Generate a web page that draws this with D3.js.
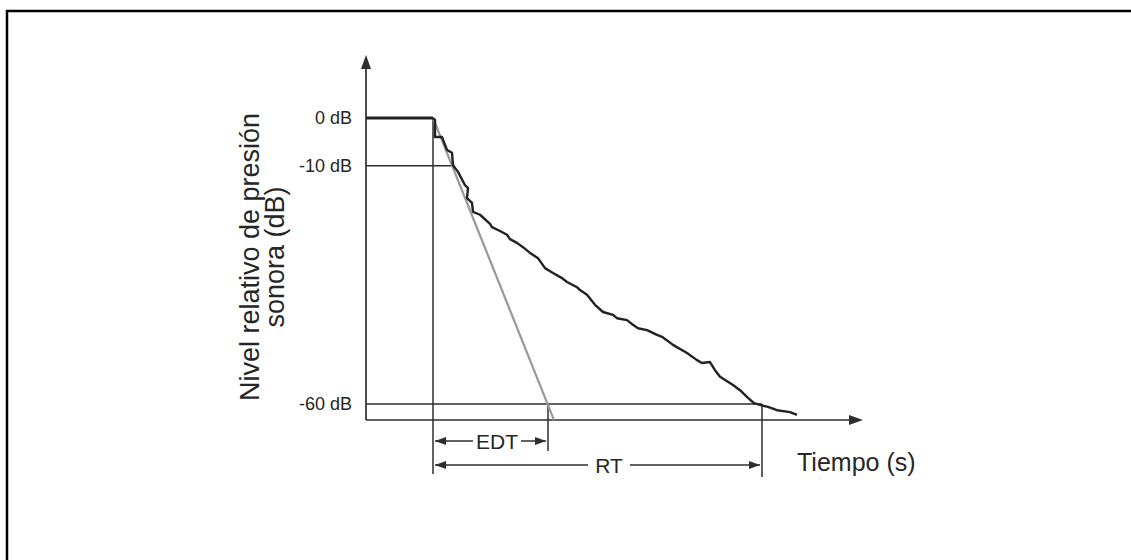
<!DOCTYPE html>
<html>
<head>
<meta charset="utf-8">
<script src="https://cdn.jsdelivr.net/npm/d3@7"></script>
<style>
  body { margin: 0; background: #fff; }
  text { font-family: "Liberation Sans", Arial, sans-serif; fill: #262626; }
</style>
</head>
<body>
<div id="chart"></div>
<script>
// decay curve, time (s) vs relative level (dB)
var flatPart = [[0, 0], [0.67, 0]];
var decayCurve = [
    [0.67, 0], [0.69, -0.4], [0.69, -4.0], [0.76, -4.0], [0.81, -6.7], [0.86, -7.3],
    [0.87, -9.9], [0.92, -11.3], [0.99, -14.1], [1.02, -14.7], [1.01, -16.8], [1.06, -17.8],
    [1.07, -19.7], [1.14, -20.3], [1.24, -22.2], [1.26, -22.9], [1.34, -23.7], [1.41, -24.5],
    [1.44, -25.4], [1.51, -26.2], [1.57, -27.1], [1.64, -28.3], [1.72, -29.4], [1.79, -31.5],
    [1.87, -32.5], [1.96, -33.6], [2.01, -34.4], [2.11, -35.5], [2.14, -36.1], [2.21, -37.1],
    [2.29, -39.2], [2.37, -40.7], [2.47, -41.3], [2.51, -42.0], [2.61, -42.4], [2.67, -43.4],
    [2.72, -44.1], [2.81, -44.5], [2.91, -45.5], [2.96, -45.9], [3.07, -47.6], [3.21, -49.3],
    [3.31, -50.8], [3.36, -51.4], [3.44, -51.2], [3.49, -52.9], [3.54, -54.3], [3.67, -56.0],
    [3.74, -57.1], [3.82, -58.7], [3.88, -59.8], [3.94, -60.2], [4.02, -60.6], [4.11, -61.3],
    [4.24, -61.7], [4.31, -62.3]
];
var edtLine = [[0.67, 0], [1.88, -63.4]];
var tickValues = [0, -10, -60];
var tickLabels = ["0 dB", "-10 dB", "-60 dB"];
var tStart = 0.67, tEdt = 1.82, tRt = 3.96;
var tTen = 0.87;   // where -10 dB meets the curve
var yLabelLines = ["Nivel relativo de presión", "sonora (dB)"];
var xLabel = "Tiempo (s)";

var W = 1131, H = 560;
var svg = d3.select("#chart").append("svg").attr("width", W).attr("height", H);

// frame
svg.append("rect").attr("x", 7).attr("y", 11).attr("width", 1140).attr("height", 560)
    .attr("fill", "none").attr("stroke", "#000").attr("stroke-width", 2.5);

var x = d3.scaleLinear().domain([0, 5]).range([366, 866]);
var y = d3.scaleLinear().domain([0, -60]).range([118, 404]);

var axisY = 420, axisTop = 55, axisRight = 863;
var ink = "#2e2e2e";

var line = d3.line().x(function(d) { return x(d[0]); }).y(function(d) { return y(d[1]); });

// axes with arrow heads
svg.append("line").attr("x1", x(0)).attr("x2", x(0)).attr("y1", axisY).attr("y2", axisTop + 8)
    .attr("stroke", ink).attr("stroke-width", 1.7);
svg.append("path").attr("d", "M" + x(0) + "," + axisTop + "l-5,14l10,0z").attr("fill", ink);
svg.append("line").attr("x1", x(0)).attr("x2", axisRight - 8).attr("y1", axisY).attr("y2", axisY)
    .attr("stroke", ink).attr("stroke-width", 1.7);
svg.append("path").attr("d", "M" + axisRight + "," + axisY + "l-14,-5l0,10z").attr("fill", ink);

// guide lines
function seg(x1, y1, x2, y2, w) {
    svg.append("line").attr("x1", x1).attr("y1", y1).attr("x2", x2).attr("y2", y2)
        .attr("stroke", ink).attr("stroke-width", w || 1.5);
}
seg(x(0), y(-10), x(tTen), y(-10));
seg(x(0), y(-60), x(tRt), y(-60));
seg(x(tStart), y(0), x(tStart), 474);
seg(x(tEdt), y(-60), x(tEdt), 451);
seg(x(tRt), y(-60), x(tRt), 477);

// tick labels
svg.selectAll(".tick").data(tickValues).enter().append("text")
    .attr("x", 352).attr("y", function(d) { return y(d); }).attr("dy", "0.36em")
    .attr("text-anchor", "end").style("font-size", "18px")
    .text(function(d, i) { return tickLabels[i]; });

// straight EDT extrapolation (grey)
svg.append("path").datum(edtLine).attr("d", line)
    .attr("fill", "none").attr("stroke", "#999").attr("stroke-width", 2.2);

// measured decay
svg.append("path").datum(flatPart).attr("d", line)
    .attr("fill", "none").attr("stroke", "#222").attr("stroke-width", 3.2);
svg.append("path").datum(decayCurve).attr("d", line)
    .attr("fill", "none").attr("stroke", "#222").attr("stroke-width", 2.4)
    .attr("stroke-linejoin", "round");

// dimension arrows
function dimArrow(xa, xb, yy, label, gapL, gapR) {
    seg(xa + 2, yy, gapL, yy, 1.5);
    seg(gapR, yy, xb - 2, yy, 1.5);
    svg.append("path").attr("d", "M" + (xa + 2) + "," + yy + "l11,-4l0,8z").attr("fill", ink);
    svg.append("path").attr("d", "M" + (xb - 2) + "," + yy + "l-11,-4l0,8z").attr("fill", ink);
    svg.append("text").attr("x", (gapL + gapR) / 2).attr("y", yy).attr("dy", "0.36em")
        .attr("text-anchor", "middle").style("font-size", "21px").text(label);
}
dimArrow(x(tStart), x(tEdt), 441, "EDT", 473, 521);
dimArrow(x(tStart), x(tRt), 465, "RT", 588, 630);

// axis titles
svg.append("text").attr("x", 797).attr("y", 471).style("font-size", "25px").text(xLabel);

var yl = svg.append("text").attr("transform", "translate(259,257) rotate(-90)")
    .attr("text-anchor", "middle").style("font-size", "27px");
yl.append("tspan").attr("x", 0).attr("y", 0).text(yLabelLines[0]);
yl.append("tspan").attr("x", 0).attr("y", 25).text(yLabelLines[1]);
</script>
</body>
</html>
